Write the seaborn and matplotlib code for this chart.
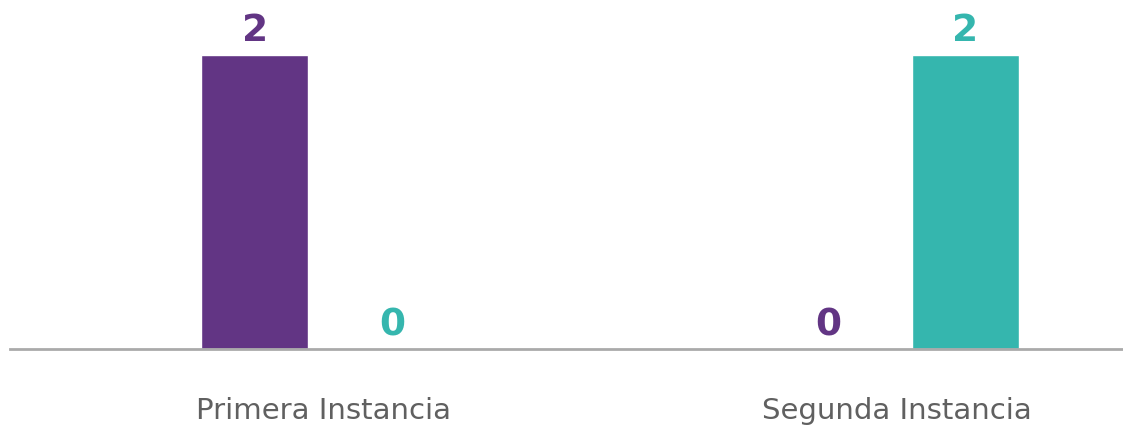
import pandas as pd
import matplotlib.pyplot as plt
import seaborn as sns

categories = ["Primera Instancia", "Segunda Instancia"]
series = ["Serie 1", "Serie 2"]
values_s1 = [2, 0]
values_s2 = [0, 2]

purple = "#623584"
teal = "#35b6ae"

df = pd.DataFrame({
    "categoria": categories * 2,
    "serie": [series[0]] * 2 + [series[1]] * 2,
    "valor": values_s1 + values_s2,
})

sns.set_theme(style="white")
plt.rcParams["font.family"] = ["DejaVu Sans"]

fig = plt.figure(figsize=(11.23, 4.27), dpi=100)
ax = fig.add_axes([10 / 1123, 77 / 427, 1113 / 1123, 350 / 427])

sns.barplot(data=df, x="categoria", y="valor", hue="serie", order=categories,
            hue_order=series, palette=[purple, teal], width=0.48, gap=0.22,
            saturation=1, legend=False, ax=ax)

for container, col in zip(ax.containers, [purple, teal]):
    ax.bar_label(container, fmt="%d", padding=5, color=col,
                 fontsize=27, fontweight="bold")

ax.set_xlim(-0.547, 1.395)
ax.set_ylim(0, 2.381)
ax.set_xlabel("")
ax.set_ylabel("")
ax.set_yticks([])
for s in ["top", "right", "left"]:
    ax.spines[s].set_visible(False)
ax.spines["bottom"].set_color("#aaaaaa")
ax.spines["bottom"].set_linewidth(2)
ax.tick_params(axis="x", length=0, pad=34, labelsize=21, labelcolor="#606060")

fig.savefig("out.png", dpi=100)
plt.close()
